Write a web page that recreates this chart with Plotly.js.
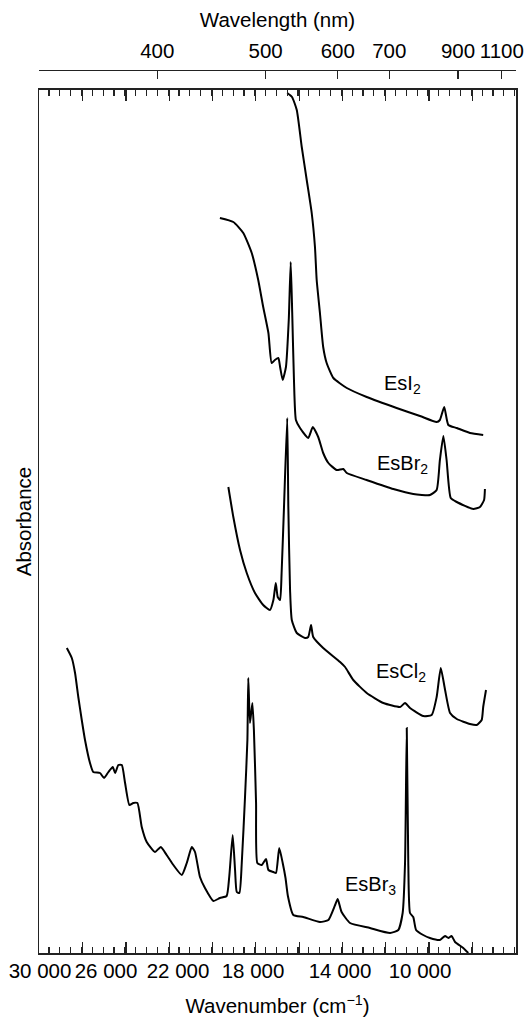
<!DOCTYPE html>
<html>
<head>
<meta charset="utf-8">
<script src="https://cdn.plot.ly/plotly-3.0.1.min.js"></script>
<style>html,body{margin:0;padding:0;background:#fff;}#chart{width:526px;height:1022px;}</style>
</head>
<body>
<div id="chart"></div>
<script>
// ---- Data (wavenumber in cm^-1, absorbance in arbitrary offset units) ----
const esI2_wn  = [19000,18780,18560,18330,18100,17870,17720,17640,17490,17340,17180,16870,16250,15330,13950,12870,12100,11950,11750,11560,11170,10560,9950];
const esI2_abs = [8.60,8.56,8.43,8.06,7.73,7.40,7.06,6.73,6.40,6.06,5.90,5.75,5.65,5.56,5.45,5.37,5.31,5.33,5.46,5.28,5.25,5.20,5.18];

const esBr2_wn  = [22110,21490,21030,20640,20340,20110,19870,19720,19570,19410,19330,19210,19060,18930,18840,18770,18690,18600,18410,18030,17820,17570,17340,17100,16720,16410,16250,15330,14100,13180,12410,12100,11950,11790,11640,11450,11170,10410,10100,9910,9870];
const esBr2_abs = [7.35,7.31,7.20,7.00,6.73,6.46,6.20,5.90,5.93,5.95,5.86,5.73,5.86,6.33,6.91,6.40,5.73,5.33,5.25,5.15,5.26,5.16,5.00,4.90,4.83,4.84,4.80,4.73,4.64,4.59,4.58,4.63,4.93,5.17,4.93,4.55,4.51,4.44,4.46,4.53,4.64];

const esCl2_wn  = [21720,21490,21180,20870,20490,20110,19800,19640,19530,19440,19330,19260,19150,19000,18950,18870,18790,18560,18180,18030,17900,17800,17340,16560,16330,15950,15330,14560,13790,13560,13330,12720,12330,12100,11910,11710,11480,11170,10560,10250,10020,9950,9820];
const esCl2_abs = [4.66,4.36,4.03,3.80,3.60,3.48,3.43,3.53,3.70,3.56,3.53,3.80,4.46,5.35,4.46,3.63,3.33,3.20,3.15,3.16,3.28,3.16,3.05,2.91,2.86,2.73,2.60,2.50,2.46,2.50,2.45,2.37,2.38,2.56,2.85,2.63,2.40,2.34,2.29,2.28,2.33,2.46,2.63];

const esBr3_wn  = [29180,28950,28800,28650,28490,28340,28110,27960,27650,27460,27260,27060,26950,26800,26640,26490,26290,26110,25920,25720,25490,25110,24840,24570,24260,23870,23640,23410,23260,23030,22800,22410,22110,21800,21680,21520,21410,21330,21210,21100,20950,20840,20800,20720,20610,20540,20440,20380,20180,19980,19870,19640,19520,19370,19210,19080,18970,18720,18260,17490,17100,16790,16670,16490,16100,15180,14250,13870,13670,13560,13480,13410,13330,13180,13050,12720,12410,11950,11710,11560,11410,11250,10870,10640];
const esBr3_abs = [3.05,2.95,2.80,2.56,2.33,2.13,1.90,1.81,1.80,1.75,1.81,1.86,1.80,1.88,1.88,1.70,1.48,1.50,1.50,1.26,1.11,1.01,1.06,0.98,0.88,0.78,0.90,1.06,1.01,0.76,0.65,0.52,0.55,0.57,0.76,1.18,0.83,0.61,0.60,0.90,1.56,2.13,2.75,2.30,2.50,2.23,1.50,0.90,0.88,0.94,0.83,0.81,0.80,1.05,0.90,0.75,0.57,0.38,0.36,0.31,0.33,0.48,0.54,0.41,0.30,0.25,0.20,0.23,0.40,0.90,2.25,0.90,0.40,0.36,0.23,0.18,0.15,0.13,0.17,0.15,0.17,0.11,0.05,0.00];

const seriesNames = ['EsI<sub>2</sub>','EsBr<sub>2</sub>','EsCl<sub>2</sub>','EsBr<sub>3</sub>'];

// Axis tick labels
const wnLabels = ['30 000','26 000','22 000','18 000','14 000','10 000'];
const wlTickNm = [400,500,600,700,900,1100];

// ---- Layout constants (positions / styles) ----
const xRange = [30465, 8435];
const yRange = [0, 8.63];
const wnLabelPos = [30418,27370,24045,20581,16564,12869];
const seriesLabelPos = [[14625,5.68],[14947,4.88],[14994,2.80],[16425,0.67]];
const FONT = 'Liberation Sans, Arial, Helvetica, sans-serif';
const FS = 20.5;

const lineStyle = {color:'#000', width:2, shape:'spline', smoothing:0.5};
const traces = [
  {x:esI2_wn, y:esI2_abs, name:'EsI2'},
  {x:esBr2_wn, y:esBr2_abs, name:'EsBr2'},
  {x:esCl2_wn, y:esCl2_abs, name:'EsCl2'},
  {x:esBr3_wn, y:esBr3_abs, name:'EsBr3'}
].map(t => Object.assign(t, {type:'scatter', mode:'lines', line:lineStyle, xaxis:'x', yaxis:'y', hoverinfo:'skip'}));

// invisible traces to activate overlay axes
traces.push({x:[xRange[0]], y:[0], xaxis:'x2', yaxis:'y', mode:'markers', marker:{opacity:0}, hoverinfo:'skip'});
traces.push({x:[xRange[0]], y:[0], xaxis:'x3', yaxis:'y', mode:'markers', marker:{opacity:0}, hoverinfo:'skip'});

const annotations = seriesNames.map((n,i) => ({
  text:n, x:seriesLabelPos[i][0], y:seriesLabelPos[i][1], xref:'x', yref:'y',
  xanchor:'left', yanchor:'middle', showarrow:false, font:{family:FONT, size:20, color:'#000'}
}));

const layout = {
  width:526, height:1022,
  margin:{l:39, r:10, t:70, b:69},
  paper_bgcolor:'#fff', plot_bgcolor:'#fff',
  showlegend:false, hovermode:false,
  font:{family:FONT, size:FS, color:'#000'},
  xaxis:{
    range:xRange, showgrid:false, zeroline:false,
    showline:true, linecolor:'#222', linewidth:1.5, mirror:'allticks',
    ticks:'inside', tickmode:'linear', tick0:30450, dtick:2000, ticklen:11, tickwidth:1.2, tickcolor:'#222',
    minor:{dtick:500, ticks:'inside', ticklen:6, tickwidth:1.2, tickcolor:'#222'},
    showticklabels:false
  },
  xaxis2:{
    overlaying:'x', anchor:'y', side:'bottom', range:xRange,
    showgrid:false, zeroline:false, showline:false, ticks:'', ticklen:0,
    ticklabelstandoff:3,
    tickmode:'array', tickvals:wnLabelPos, ticktext:wnLabels,
    tickfont:{family:FONT, size:FS, color:'#000'},
    title:{text:'Wavenumber (cm<sup>−1</sup>)', font:{family:FONT, size:FS, color:'#000'}, standoff:18}
  },
  xaxis3:{
    overlaying:'x', anchor:'free', position:1, side:'top', range:xRange,
    showgrid:false, zeroline:false, showline:true, linecolor:'#222', linewidth:1.2,
    ticks:'inside', ticklen:8, tickwidth:1.2, tickcolor:'#222',
    ticklabelstandoff:4,
    tickmode:'array', tickvals:wlTickNm.map(n => 1e7/n), ticktext:wlTickNm.map(String),
    tickfont:{family:FONT, size:FS, color:'#000'},
    title:{text:'Wavelength (nm)', font:{family:FONT, size:FS, color:'#000'}, standoff:4}
  },
  yaxis:{
    range:yRange, domain:[0, 0.97735], showgrid:false, zeroline:false,
    showline:true, linecolor:'#222', linewidth:1.5, mirror:true,
    ticks:'', showticklabels:false,
    title:{text:'Absorbance', font:{family:FONT, size:FS, color:'#000'}, standoff:0}
  },
  annotations:annotations
};

Plotly.newPlot('chart', traces, layout, {staticPlot:true, displayModeBar:false});
</script>
</body>
</html>
